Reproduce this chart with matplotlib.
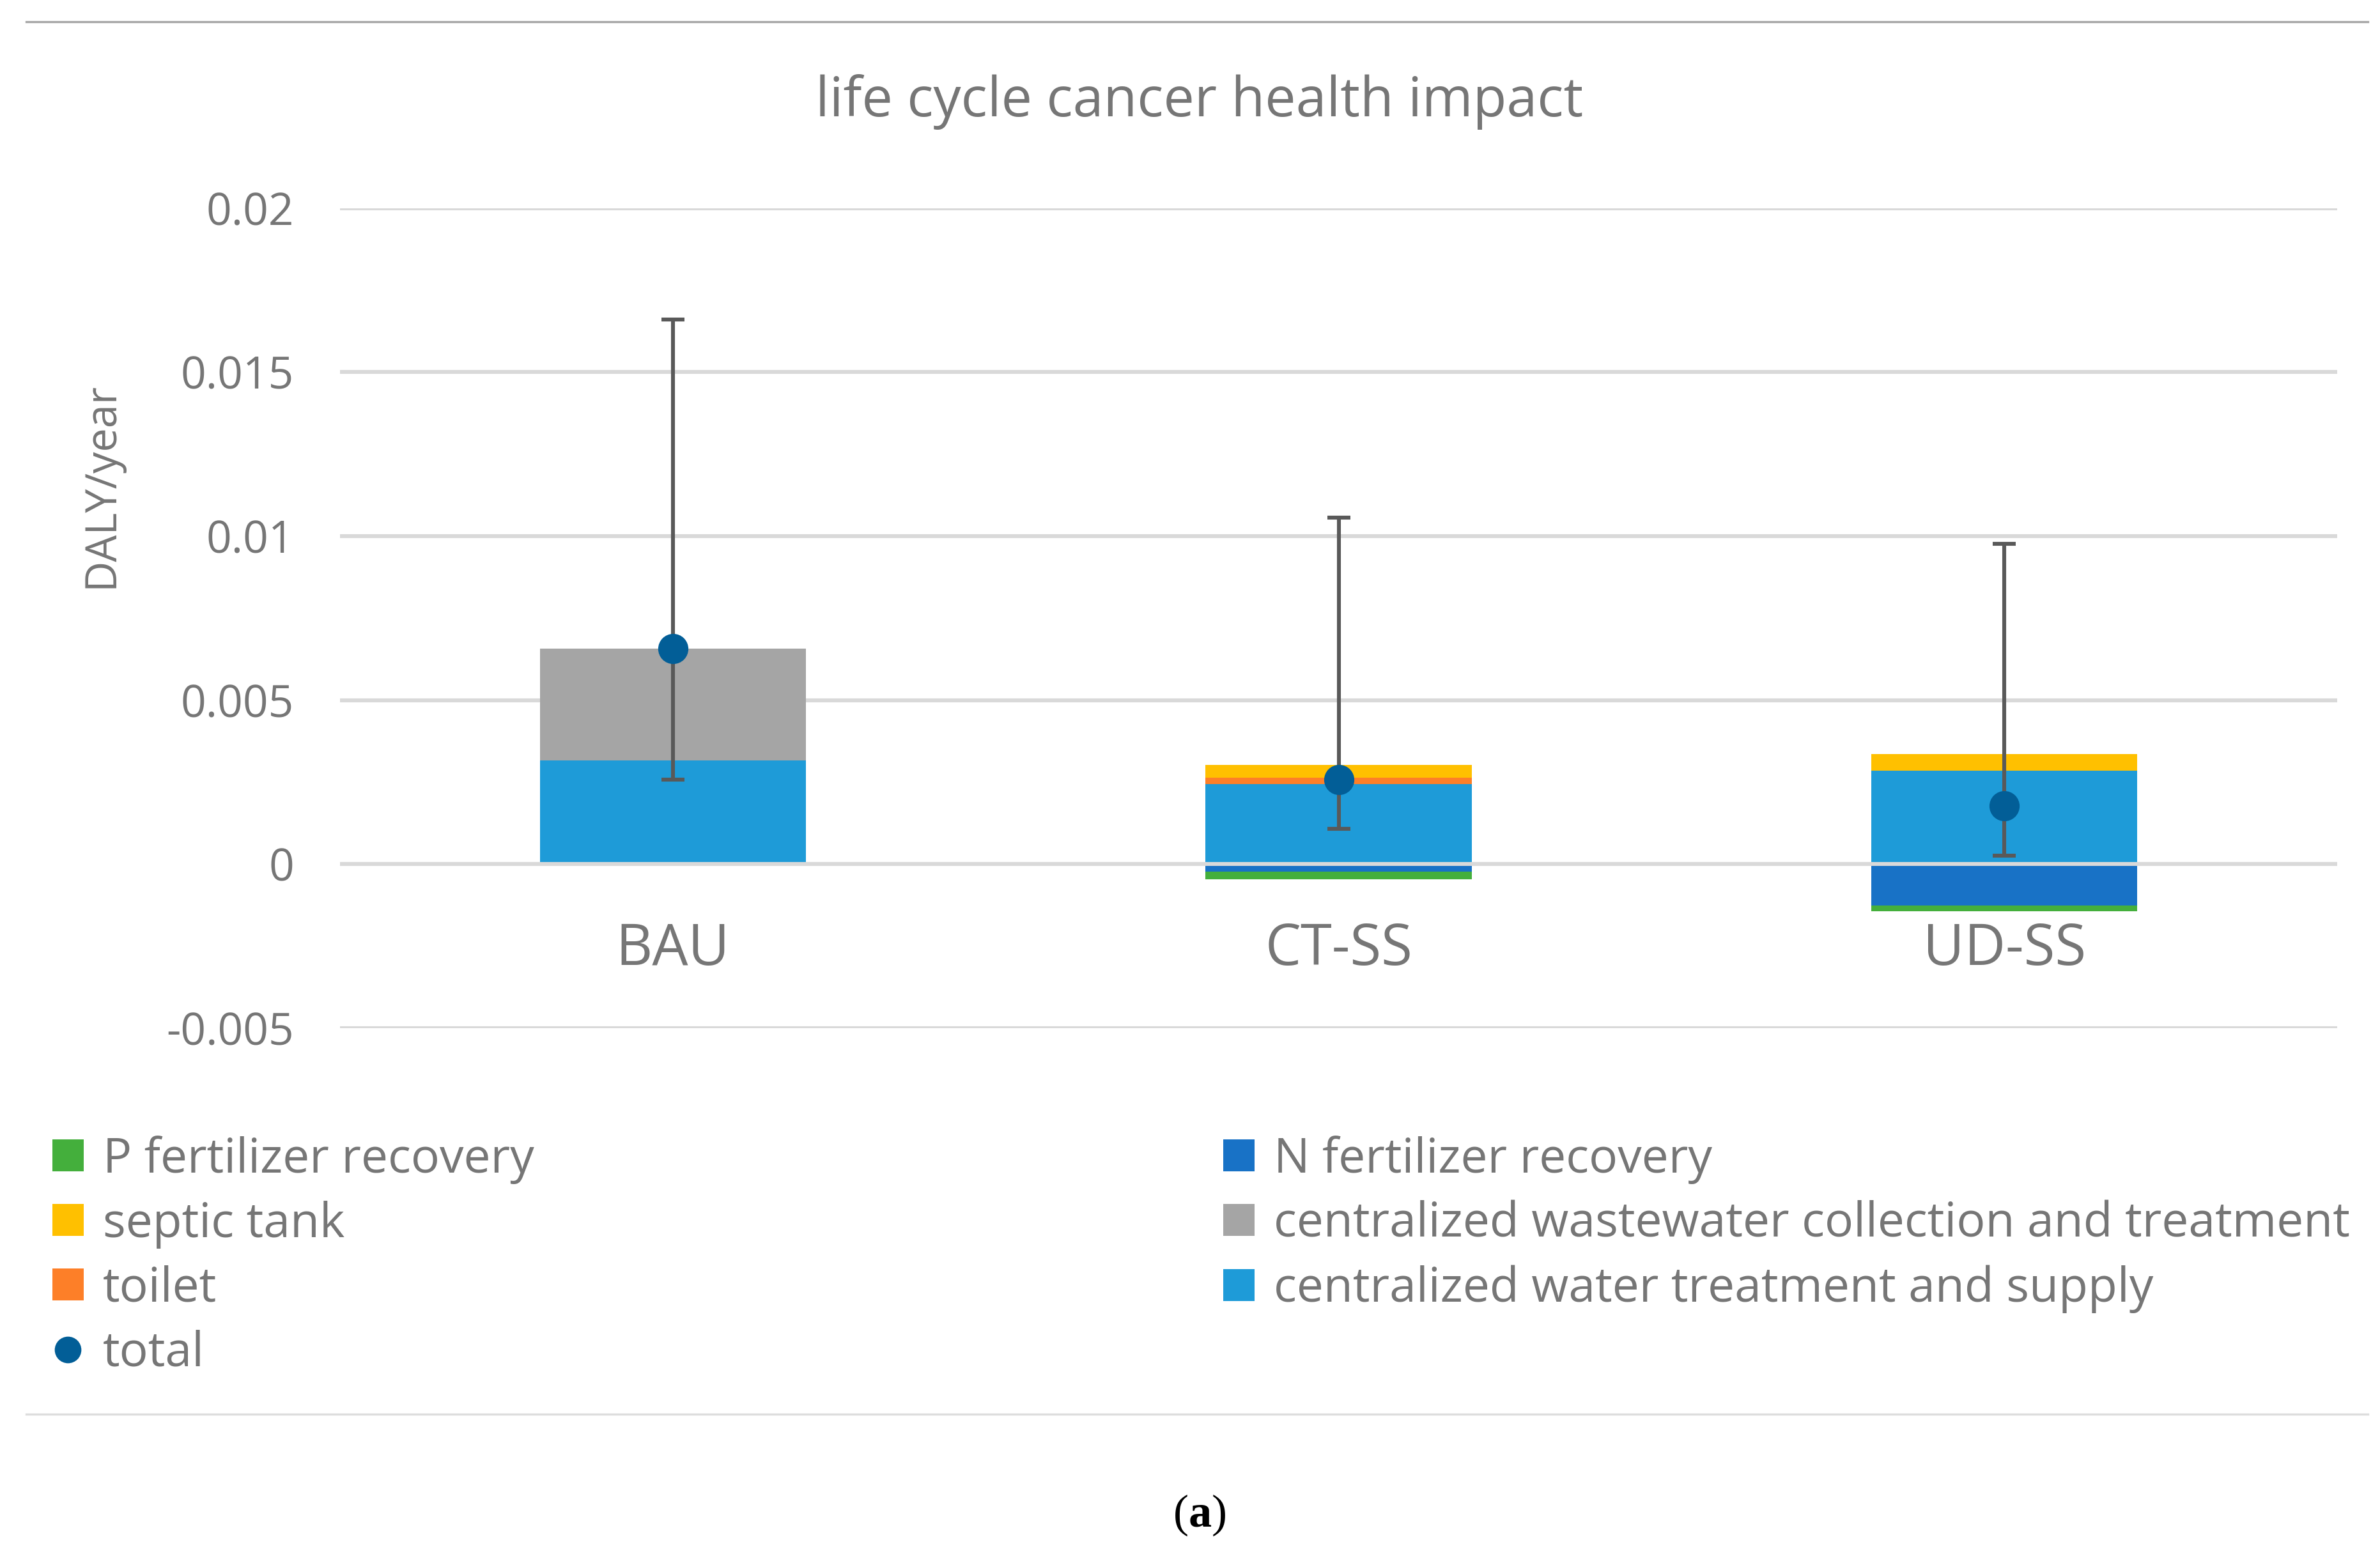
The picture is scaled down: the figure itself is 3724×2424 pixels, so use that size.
import matplotlib.pyplot as plt
import numpy as np
from matplotlib.patches import Patch
from matplotlib.lines import Line2D

plt.rcParams['font.family'] = ['Open Sans', 'DejaVu Sans']
plt.rcParams['mathtext.fontset'] = 'custom'
plt.rcParams['mathtext.rm'] = 'Liberation Serif'
plt.rcParams['mathtext.bf'] = 'Liberation Serif:bold'

# values (DALY/year)
categories = ['BAU', 'CT-SS', 'UD-SS']
p_fert     = [0.0, -0.00022, -0.00016]
n_fert     = [0.0, -0.00024, -0.00127]
septic     = [0.0, 0.00040, 0.00052]
wastewater = [0.00342, 0.0, 0.0]
toilet     = [0.0, 0.00019, 0.0]
water      = [0.00315, 0.00244, 0.00284]
total      = [0.00657, 0.00258, 0.00177]
err_low    = [0.00257, 0.00107, 0.00026]
err_high   = [0.01660, 0.01056, 0.00977]

C_P = '#44AF3C'
C_N = '#1872C6'
C_SEPTIC = '#FFC000'
C_WW = '#A5A5A5'
C_TOILET = '#FD7F28'
C_WATER = '#1E9BD8'
C_TOTAL = '#025E97'
TXT = '#767676'

fig = plt.figure(figsize=(18.62, 12.12), dpi=200)
ax = fig.add_axes([0.1429, 0.3363, 0.982 - 0.1429, 0.8657 - 0.3363])

x = np.arange(len(categories))
w = 0.4

# positive stack
bot = np.zeros(len(x))
for vals, col in [(water, C_WATER), (toilet, C_TOILET), (wastewater, C_WW), (septic, C_SEPTIC)]:
    v = np.array(vals)
    ax.bar(x, v, w, bottom=bot, color=col, zorder=2)
    bot += v
# negative stack
nbot = np.zeros(len(x))
for vals, col in [(n_fert, C_N), (p_fert, C_P)]:
    v = np.array(vals)
    ax.bar(x, v, w, bottom=nbot, color=col, zorder=2)
    nbot += v

ax.axhline(0, color='#D9D9D9', lw=2.2, zorder=3)

tot = np.array(total)
yerr = [tot - np.array(err_low), np.array(err_high) - tot]
ax.errorbar(x, tot, yerr=yerr, fmt='none', ecolor='#595959', elinewidth=2.2,
            capsize=6.4, capthick=2.2, zorder=4)
ax.plot(x, tot, 'o', color=C_TOTAL, markersize=16, zorder=5)

ax.set_xlim(-0.5, 2.5)
ax.set_ylim(-0.005, 0.02)
ax.set_yticks([-0.005, 0, 0.005, 0.01, 0.015, 0.02])
ax.set_yticklabels(['-0.005', '0', '0.005', '0.01', '0.015', '0.02'])
ax.yaxis.grid(True, color='#D9D9D9', lw=2.2)
ax.set_axisbelow(True)
for s in ax.spines.values():
    s.set_visible(False)
ax.spines['bottom'].set_position(('data', 0))
ax.set_xticks(x)
ax.set_xticklabels(categories)
ax.tick_params(axis='x', length=0, pad=32, labelsize=32, labelcolor=TXT)
ax.tick_params(axis='y', length=0, pad=26, labelsize=25, labelcolor=TXT)

fig.text(0.504, 0.934, 'life cycle cancer health impact', ha='center', va='center',
         fontsize=31, color=TXT)
fig.text(0.0427, 0.687, 'DALY/year', rotation=90, ha='center', va='center',
         fontsize=24, color=TXT)

def sq(c):
    return Patch(facecolor=c, edgecolor='none')

leg_kw = dict(frameon=False, fontsize=27, labelcolor=TXT, handlelength=0.65,
              handleheight=0.65, handletextpad=0.4, labelspacing=0.345,
              borderaxespad=0, borderpad=0)
leg1 = fig.legend([sq(C_P), sq(C_SEPTIC), sq(C_TOILET),
                   Line2D([], [], marker='o', ls='none', color=C_TOTAL, markersize=14)],
                  ['P fertilizer recovery', 'septic tank', 'toilet', 'total'],
                  loc='upper left', bbox_to_anchor=(0.022, 0.267), **leg_kw)
leg2 = fig.legend([sq(C_N), sq(C_WW), sq(C_WATER)],
                  ['N fertilizer recovery', 'centralized wastewater collection and treatment',
                   'centralized water treatment and supply'],
                  loc='upper left', bbox_to_anchor=(0.514, 0.267), **leg_kw)

fig.add_artist(Line2D([0.011, 0.995], [0.986, 0.986], color='#A6A6A6', lw=1.2))
fig.add_artist(Line2D([0.011, 0.995], [0.087, 0.087], color='#DDDDDD', lw=1.2))
fig.text(0.504, 0.022, r'($\mathbf{a}$)', ha='center', va='center', fontsize=26,
         color='black', family='Liberation Serif')

plt.savefig('out.png', dpi=200)
